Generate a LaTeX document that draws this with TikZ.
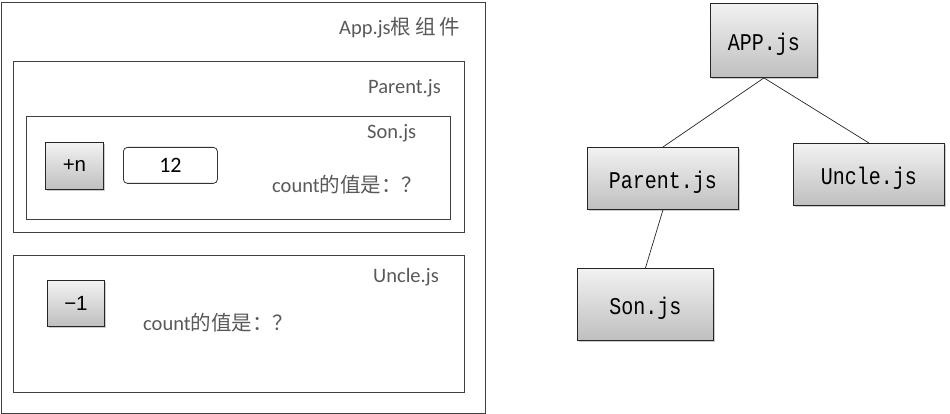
\documentclass[tikz,border=0pt]{standalone}
\usepackage{fontspec}
\setmainfont{Carlito}
\newfontfamily\cjk{Noto Sans CJK SC}
\newfontfamily\monof{Liberation Mono}
\newfontfamily\arialf{Liberation Sans}
\usetikzlibrary{shadows}
\definecolor{lblc}{HTML}{595959}
\definecolor{edgec}{HTML}{404040}
\definecolor{gtop}{HTML}{F2F2F2}
\definecolor{gbot}{HTML}{BFBFBF}
\newcommand{\tall}[1]{\raisebox{-4pt}[\height][\depth]{\scalebox{1}[1.2]{#1}}}
\begin{document}
\begin{tikzpicture}[x=1pt,y=-1pt,
  frame/.style={draw=edgec, line width=0.9pt, inner sep=0pt, anchor=north west},
  lbl/.style={text=lblc, font=\fontsize{20.5}{22}\selectfont, anchor=west, inner sep=0pt},
  shbox/.style={draw=black!85, line width=0.9pt, top color=gtop, bottom color=gbot,
    drop shadow={shadow xshift=1.5pt, shadow yshift=-1.5pt, opacity=0.4}, inner sep=0pt, anchor=north west},
  btn/.style={shbox, font=\arialf\fontsize{20.5}{22}\selectfont},
  tnode/.style={shbox, font=\monof\fontsize{20}{22}\selectfont},
  valbox/.style={draw=black!80, line width=0.8pt, rounded corners=4pt, inner sep=0pt, anchor=north west, font=\fontsize{22}{24}\selectfont}
]
\useasboundingbox (0,0) rectangle (950,414);
% left side frames
\node[frame, minimum width=484pt, minimum height=411pt] (appframe) at (1,2) {};
\node[frame, minimum width=451pt, minimum height=171pt] (parentframe) at (13,61) {};
\node[frame, minimum width=424pt, minimum height=103pt] (sonframe) at (26,116) {};
\node[frame, minimum width=451pt, minimum height=137pt] (uncleframe) at (13,255) {};
% labels
\node[lbl] (applbl) at (339,28) {App.js{\cjk 根\hspace{4pt}组\hspace{4pt}件}};
\node[lbl] (parentlbl) at (368,88) {Parent.js};
\node[lbl] (sonlbl) at (367,133) {Son.js};
\node[lbl] (soncount) at (272,185) {count{\cjk 的值是：？}};
\node[lbl] (unclelbl) at (373,277) {Uncle.js};
\node[lbl] (unclecount) at (143,323) {count{\cjk 的值是：？}};
% buttons
\node[btn, minimum width=58pt, minimum height=47pt] (plusn) at (45,142) {+n};
\node[valbox, minimum width=94pt, minimum height=36pt] (val) at (123,147) {12};
\node[btn, minimum width=57pt, minimum height=46pt] (minus1) at (47,280) {−1};
% tree
\node[tnode, minimum width=107pt, minimum height=74pt] (app) at (710,3) {\tall{APP.js}};
\node[tnode, minimum width=151pt, minimum height=62pt] (parent) at (587,147) {\tall{Parent.js}};
\node[tnode, minimum width=151pt, minimum height=62pt] (uncle) at (793,143) {\tall{Uncle.js}};
\node[tnode, minimum width=136pt, minimum height=72pt] (son) at (577,268) {\tall{Son.js}};
\draw[black!85, line width=0.7pt] (app.south) -- (parent.north);
\draw[black!85, line width=0.7pt] (app.south) -- (uncle.north);
\draw[black!85, line width=0.7pt] (parent.south) -- (son.north);
\end{tikzpicture}
\end{document}
